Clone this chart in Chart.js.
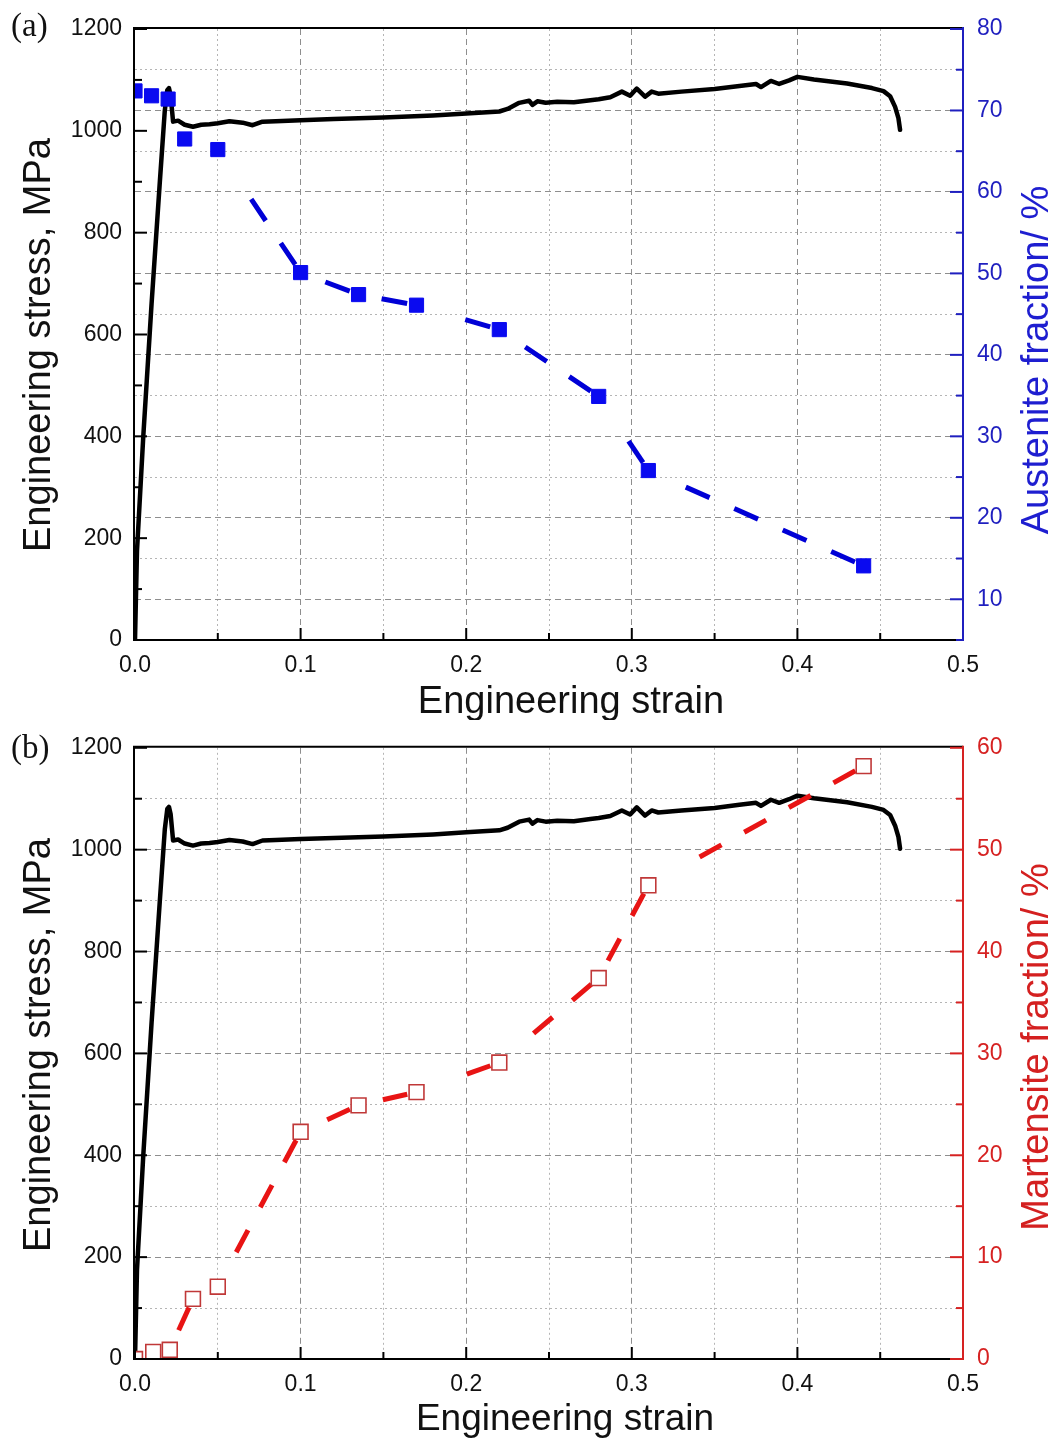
<!DOCTYPE html>
<html>
<head>
<meta charset="utf-8">
<title>Engineering stress-strain curves with austenite / martensite fractions</title>
<script src="https://cdn.jsdelivr.net/npm/chart.js@4.4.1/dist/chart.umd.min.js"></script>
<style>
  html, body { margin: 0; padding: 0; background: #fff; }
  .panel { position: absolute; left: 0; width: 1055px; }
  #panel-a { top: 0; height: 720px; }
  #panel-b { top: 720px; height: 721px; }
  canvas { display: block; }
</style>
</head>
<body>
<div class="panel" id="panel-a"><canvas id="chart-a" width="1055" height="720"></canvas></div>
<div class="panel" id="panel-b"><canvas id="chart-b" width="1055" height="721"></canvas></div>

<script>
// Tensile record (engineering strain / engineering stress in MPa)
const strainPath = [
  0, 0.0012, 0.005, 0.01, 0.015, 0.018, 0.0195, 0.0205, 0.0215, 0.023,
  0.026, 0.03, 0.035, 0.04, 0.045, 0.05, 0.057, 0.065, 0.071, 0.077,
  0.085, 0.1, 0.12, 0.15, 0.18, 0.2, 0.215, 0.22, 0.225, 0.232,
  0.238, 0.24, 0.243, 0.248, 0.255, 0.265, 0.275, 0.28, 0.287, 0.294,
  0.299, 0.303, 0.308, 0.312, 0.316, 0.33, 0.35, 0.365, 0.375, 0.378,
  0.384, 0.389, 0.395, 0.4, 0.41, 0.43, 0.445, 0.452, 0.456, 0.459,
  0.461, 0.462
];
const stressPath = [
  0, 175, 400, 660, 900, 1040, 1080, 1084, 1070, 1018,
  1020, 1012, 1008, 1012, 1013, 1015, 1019, 1016, 1011, 1018,
  1019, 1021, 1023, 1026, 1030, 1034, 1037, 1038, 1043, 1055,
  1059, 1051, 1058, 1055, 1057, 1056, 1060, 1062, 1066, 1077,
  1069, 1083, 1067, 1077, 1073, 1077, 1082, 1088, 1092, 1086,
  1098, 1092, 1099, 1106, 1101, 1093, 1084, 1078, 1068, 1047,
  1025, 1002
];

// Phase fractions (%) measured on interrupted specimens
const austeniteStrain = [0, 0.01, 0.02, 0.03, 0.05, 0.1, 0.135, 0.17, 0.22, 0.28, 0.31, 0.44];
const austeniteFraction = [72.4, 71.8, 71.4, 66.5, 65.2, 50.1, 47.4, 46.1, 43.1, 34.9, 25.8, 14.1];
const martensiteStrain = [0, 0.011, 0.021, 0.035, 0.05, 0.1, 0.135, 0.17, 0.22, 0.28, 0.31, 0.44];
const martensiteFraction = [0, 0.7, 0.9, 5.9, 7.1, 22.3, 24.9, 26.2, 29.1, 37.4, 46.5, 58.2];

// Axis ranges and tick steps: [min, max, minor step, labelled step]
const strainAxis = [0, 0.5, 0.05, 0.1];
const stressAxis = [0, 1200, 100, 200];
const austeniteAxis = [5, 80, 5, 10];
const martensiteAxis = [0, 60, 5, 10];

const SANS = '"Liberation Sans", Arial, sans-serif';
const SERIF = '"Liberation Serif", "Times New Roman", serif';
const BLUE_AXIS = '#1f1fbf';
const RED_AXIS = '#d62222';

function pairs(xs, ys) {
  return xs.map((x, i) => ({ x: x, y: ys[i] }));
}

// true when v sits on a labelled (major) step of the axis
function isMajor(v, axis) {
  const r = v / axis[3];
  return Math.abs(r - Math.round(r)) < 1e-6;
}

function isEdge(v, axis) {
  return Math.abs(v - axis[0]) < 1e-9 || Math.abs(v - axis[1]) < 1e-9;
}

// Dashed grid on major steps, dotted on minor ones, nothing on the frame
function gridColor(axis) {
  return ctx => {
    if (!ctx.tick || isEdge(ctx.tick.value, axis)) return 'rgba(0,0,0,0)';
    return isMajor(ctx.tick.value, axis) ? '#8e8e8e' : '#b5b5b5';
  };
}
function gridDash(axis) {
  return ctx => {
    if (!ctx.tick) return [];
    return isMajor(ctx.tick.value, axis) ? [6, 4] : [2, 3];
  };
}

// Dash pattern for one segment between two markers: the dashes are laid
// back from the far marker, leaving a small gap at each symbol, and only
// whole dashes are kept.
function symbolGapDash(dash, gap, endGap, startGap) {
  return ctx => {
    const len = Math.hypot(ctx.p1.x - ctx.p0.x, ctx.p1.y - ctx.p0.y);
    const starts = [];
    let end = len - endGap;
    while (end - dash >= startGap) {
      starts.unshift(end - dash);
      end -= dash + gap;
    }
    if (!starts.length) return [0, len + 10];
    const pattern = [0, starts[0]];
    starts.forEach((s, i) => {
      pattern.push(dash, i < starts.length - 1 ? gap : len + 10);
    });
    return pattern;
  };
}

// Frame and inward-pointing tick marks
function frameTicks(rightColor, rightAxis) {
  return {
    id: 'frameTicks',
    afterDatasetsDraw(chart) {
      const { ctx, chartArea: a, scales } = chart;
      const seg = (x1, y1, x2, y2, color) => {
        ctx.strokeStyle = color;
        ctx.beginPath();
        ctx.moveTo(x1, y1);
        ctx.lineTo(x2, y2);
        ctx.stroke();
      };
      ctx.save();
      ctx.lineWidth = 2;
      ctx.lineCap = 'butt';
      ctx.setLineDash([]);

      seg(a.left, a.top - 1, a.right, a.top - 1, '#000');
      seg(a.left - 1, a.top - 2, a.left - 1, a.bottom + 1, '#000');
      seg(a.left - 2, a.bottom, a.right, a.bottom, '#000');

      scales.x.ticks.forEach(t => {
        const px = scales.x.getPixelForValue(t.value);
        const len = isMajor(t.value, strainAxis) ? 12 : 7;
        seg(px, a.bottom, px, a.bottom - len, '#000');
      });
      scales.y.ticks.forEach(t => {
        const py = scales.y.getPixelForValue(t.value);
        const len = isMajor(t.value, stressAxis) ? 12 : 7;
        seg(a.left, py, a.left + len, py, '#000');
      });

      seg(a.right, a.top - 2, a.right, a.bottom + 1, rightColor);
      scales.y1.ticks.forEach(t => {
        const py = scales.y1.getPixelForValue(t.value);
        const len = isMajor(t.value, rightAxis) ? 13 : 7;
        seg(a.right, py, a.right - len, py, rightColor);
      });
      ctx.restore();
    }
  };
}

// Panel tag and axis titles
function captions(items) {
  return {
    id: 'captions',
    afterDraw(chart) {
      const ctx = chart.ctx;
      items.forEach(it => {
        ctx.save();
        ctx.translate(it.x, it.y);
        if (it.vertical) ctx.rotate(-Math.PI / 2);
        ctx.font = it.font;
        ctx.fillStyle = it.color;
        ctx.textAlign = it.align || 'center';
        ctx.textBaseline = 'alphabetic';
        ctx.fillText(it.text, 0, 0);
        ctx.restore();
      });
    }
  };
}

function buildPanel(canvasId, opts) {
  const tickFont = { family: SANS, size: 23 };
  const rightAxis = opts.rightAxis;

  return new Chart(document.getElementById(canvasId), {
    type: 'line',
    data: {
      datasets: [
        {
          label: opts.fractionLabel,
          data: pairs(opts.fractionStrain, opts.fraction),
          yAxisID: 'y1',
          order: 1,
          borderColor: opts.lineColor,
          borderWidth: 5,
          borderCapStyle: 'butt',
          segment: { borderDash: symbolGapDash(opts.dash[0], opts.dash[1], 9.5, 9) },
          tension: 0,
          pointStyle: 'rect',
          pointRadius: opts.markerRadius,
          pointBackgroundColor: opts.markerFill,
          pointBorderColor: opts.markerEdge,
          pointBorderWidth: opts.markerEdgeWidth,
          clip: 0
        },
        {
          label: 'Engineering stress',
          data: pairs(strainPath, stressPath),
          yAxisID: 'y',
          order: 2,
          borderColor: '#000',
          borderWidth: 4.5,
          borderJoinStyle: 'round',
          borderCapStyle: 'round',
          tension: 0,
          pointRadius: 0,
          clip: 0
        }
      ]
    },
    options: {
      responsive: false,
      animation: false,
      devicePixelRatio: 1,
      layout: { padding: { top: opts.top, left: 0, right: 0, bottom: 0 } },
      plugins: {
        legend: { display: false },
        tooltip: { enabled: false },
        title: { display: false }
      },
      scales: {
        x: {
          type: 'linear',
          min: strainAxis[0],
          max: strainAxis[1],
          afterFit: s => { s.height = opts.xHeight; },
          ticks: {
            stepSize: strainAxis[2],
            autoSkip: false,
            maxRotation: 0,
            padding: 12,
            color: '#111',
            font: tickFont,
            callback: v => isMajor(v, strainAxis) ? v.toFixed(1) : ''
          },
          grid: { drawTicks: false, lineWidth: 1, color: gridColor(strainAxis) },
          border: { display: false, dash: gridDash(strainAxis) }
        },
        y: {
          type: 'linear',
          position: 'left',
          min: stressAxis[0],
          max: stressAxis[1],
          afterFit: s => { s.width = 135; },
          ticks: {
            stepSize: stressAxis[2],
            autoSkip: false,
            padding: 13,
            color: '#111',
            font: tickFont,
            callback: v => isMajor(v, stressAxis) ? String(v) : ''
          },
          grid: { drawTicks: false, drawOnChartArea: false },
          border: { display: false }
        },
        y1: {
          type: 'linear',
          position: 'right',
          min: rightAxis[0],
          max: rightAxis[1],
          afterFit: s => { s.width = 92; },
          ticks: {
            stepSize: rightAxis[2],
            autoSkip: false,
            padding: 14,
            color: opts.axisColor,
            font: tickFont,
            callback: v => isMajor(v, rightAxis) ? String(v) : ''
          },
          grid: { drawTicks: false, lineWidth: 1, color: gridColor(rightAxis) },
          border: { display: false, dash: gridDash(rightAxis) }
        }
      }
    },
    plugins: [frameTicks(opts.axisColor, rightAxis), captions(opts.captions)]
  });
}

buildPanel('chart-a', {
  top: 29,
  xHeight: 80,
  rightAxis: austeniteAxis,
  axisColor: BLUE_AXIS,
  fractionLabel: 'Austenite fraction',
  fractionStrain: austeniteStrain,
  fraction: austeniteFraction,
  lineColor: '#0000d6',
  dash: [26, 27],
  markerRadius: 10,
  markerFill: '#0a0af0',
  markerEdge: '#0a0af0',
  markerEdgeWidth: 1,
  captions: [
    { text: '(a)', x: 11, y: 36, align: 'left', font: '33px ' + SERIF, color: '#111' },
    { text: 'Engineering strain', x: 571, y: 713, font: '38px ' + SANS, color: '#111' },
    { text: 'Engineering stress, MPa', x: 50, y: 345, vertical: true, font: '38px ' + SANS, color: '#111' },
    { text: 'Austenite fraction/ %', x: 1048, y: 360, vertical: true, font: '38px ' + SANS, color: '#1e1ed0' }
  ]
});

buildPanel('chart-b', {
  top: 27,
  xHeight: 82,
  rightAxis: martensiteAxis,
  axisColor: RED_AXIS,
  fractionLabel: 'Martensite fraction',
  fractionStrain: martensiteStrain,
  fraction: martensiteFraction,
  lineColor: '#e81414',
  dash: [25, 26],
  markerRadius: 10.5,
  markerFill: '#ffffff',
  markerEdge: '#c03838',
  markerEdgeWidth: 1.6,
  captions: [
    { text: '(b)', x: 11, y: 38, align: 'left', font: '33px ' + SERIF, color: '#111' },
    { text: 'Engineering strain', x: 565, y: 710, font: '37px ' + SANS, color: '#111' },
    { text: 'Engineering stress, MPa', x: 50, y: 325, vertical: true, font: '38px ' + SANS, color: '#111' },
    { text: 'Martensite fraction/ %', x: 1048, y: 327, vertical: true, font: '38px ' + SANS, color: '#d42020' }
  ]
});
</script>
</body>
</html>
